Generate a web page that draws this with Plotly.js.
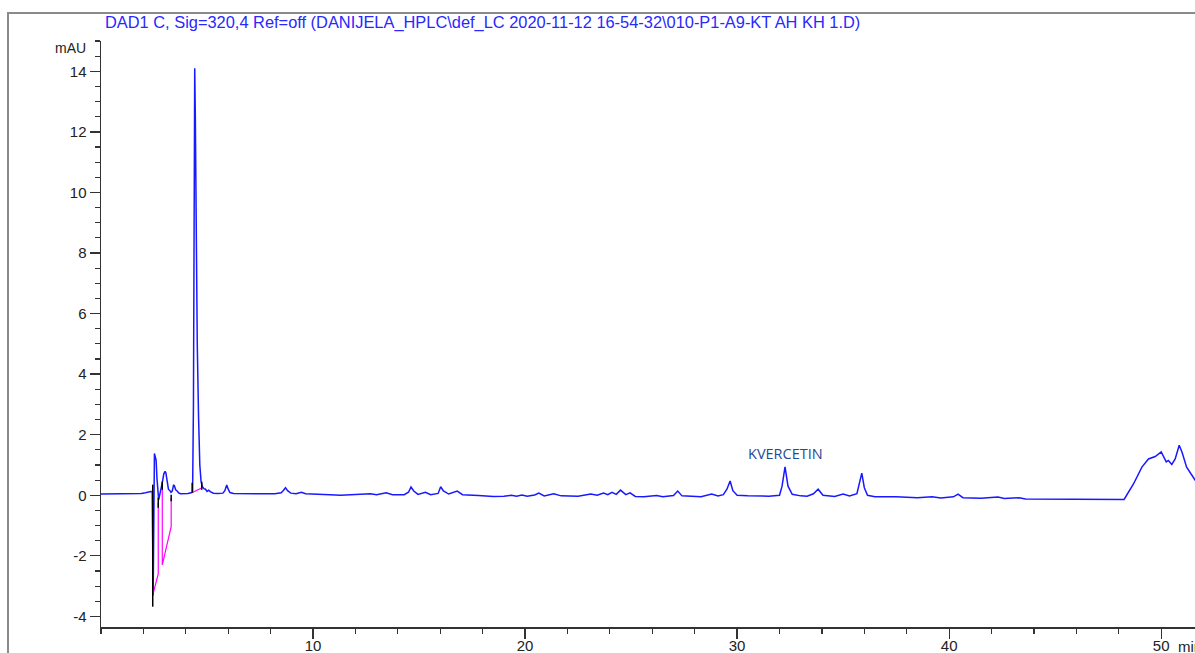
<!DOCTYPE html>
<html><head><meta charset="utf-8">
<script src="https://cdn.plot.ly/plotly-3.0.1.min.js"></script>
<style>html,body{margin:0;padding:0;overflow:hidden;background:#fff;}#c{width:1260px;height:653px;}</style>
</head><body><div id="c"></div>
<script>
// Signal (DAD1 C, 320 nm): retention time [min] and absorbance [mAU]
const time = [0.00,0.50,1.00,1.50,1.90,2.10,2.25,2.35,2.42,2.46,2.52,2.56,2.60,2.64,2.68,2.72,2.76,2.82,2.90,2.96,3.02,3.06,3.12,3.18,3.24,3.30,3.36,3.42,3.46,3.52,3.58,3.66,3.75,3.90,4.10,4.25,4.32,4.36,4.39,4.42,4.45,4.49,4.54,4.60,4.66,4.72,4.78,4.85,4.93,5.00,5.08,5.15,5.30,5.50,5.75,5.84,5.93,6.00,6.08,6.25,6.8,7.5,8.2,8.50,8.60,8.70,8.80,8.95,9.20,9.45,9.65,10.0,10.5,10.8,11.3,11.8,12.3,12.7,13.0,13.45,13.75,14.3,14.50,14.62,14.75,14.95,15.30,15.55,15.90,16.02,16.15,16.40,16.80,17.05,17.8,18.5,19.0,19.35,19.6,19.85,20.1,20.45,20.65,20.9,21.35,21.7,22.5,23.1,23.4,23.7,23.9,24.1,24.3,24.5,24.75,24.95,25.2,25.6,26.2,26.5,27.0,27.2,27.4,28.3,28.8,29.1,29.35,29.52,29.67,29.80,30.0,30.5,31.5,32.0,32.12,32.26,32.40,32.60,33.0,33.3,33.6,33.82,34.05,34.6,35.0,35.3,35.65,35.78,35.88,36.0,36.15,36.5,37.5,38.5,39.2,39.6,40.2,40.42,40.65,41.5,42.3,42.6,43.3,43.6,45.0,46.5,47.8,48.25,48.70,49.09,49.40,49.72,50.00,50.24,50.34,50.50,50.66,50.85,50.98,51.20,51.60,52.0,52.5,53.0,54.0];
const mau = [0.04,0.04,0.05,0.05,0.06,0.08,0.11,0.12,0.10,-3.30,1.38,1.30,1.15,0.55,0.02,-0.15,-0.02,0.15,0.45,0.70,0.79,0.74,0.42,0.20,0.16,0.10,0.14,0.33,0.32,0.18,0.15,0.08,0.05,0.05,0.06,0.08,0.10,3.0,10.0,14.1,12.4,8.4,5.0,2.6,1.0,0.45,0.28,0.22,0.20,0.13,0.17,0.12,0.07,0.06,0.07,0.15,0.34,0.20,0.09,0.06,0.05,0.05,0.05,0.08,0.16,0.25,0.15,0.07,0.05,0.10,0.05,0.04,0.05,0.02,0.00,0.01,0.02,0.05,0.02,0.08,0.02,0.02,0.10,0.27,0.14,0.03,0.10,0.02,0.06,0.28,0.14,0.04,0.14,0.02,-0.01,-0.04,-0.03,0.00,-0.03,0.01,-0.03,0.01,0.07,-0.02,0.05,-0.02,-0.03,0.04,0.00,0.07,0.02,0.10,0.03,0.17,0.02,0.08,-0.04,-0.05,-0.01,-0.05,-0.01,0.14,-0.02,-0.05,0.04,-0.02,0.02,0.20,0.47,0.15,0.00,-0.02,-0.03,0.00,0.30,0.94,0.30,0.03,-0.02,-0.03,0.05,0.20,0.00,-0.04,0.04,-0.02,0.05,0.40,0.73,0.25,0.00,-0.05,-0.05,-0.08,-0.05,-0.09,-0.05,0.04,-0.08,-0.10,-0.06,-0.11,-0.08,-0.12,-0.13,-0.14,-0.15,-0.14,0.38,0.93,1.20,1.28,1.43,1.10,1.15,1.02,1.20,1.65,1.43,0.93,0.50,0.30,0.20,0.15,0.10];

// Integration baselines (magenta), segments separated by null
const baseT = [2.42,2.44,2.70,2.70,null,2.89,2.89,3.31,3.31,null,4.30,4.75];
const baseV = [0.18,-3.30,-2.60,-0.25,null,0.20,-2.30,-1.04,-0.10,null,0.09,0.24];

// Peak start/end tick marks (black)
const markT = [2.44,2.44,null,2.70,2.70,null,2.89,2.89,null,3.31,3.31,null,4.30,4.30,null,4.75,4.75];
const markV = [0.35,-3.68,null,-0.08,-0.41,null,0.45,0.18,null,0.02,-0.20,null,0.41,0.08,null,0.45,0.18];

const xTickVals = [10,20,30,40,50];
const yTickVals = [-4,-2,0,2,4,6,8,10,12,14];
const peakLabel = {text:'KVERCETIN', t:32.3, v:1.38};
const titleText = 'DAD1 C, Sig=320,4 Ref=off (DANIJELA_HPLC\\def_LC 2020-11-12 16-54-32\\010-P1-A9-KT AH KH 1.D)';

const traces = [
  {x:time, y:mau, type:'scatter', mode:'lines', line:{color:'rgb(25,25,255)', width:1.5}, hoverinfo:'skip'},
  {x:baseT, y:baseV, type:'scatter', mode:'lines', line:{color:'#ff00ff', width:1.2}, connectgaps:false, hoverinfo:'skip'},
  {x:markT, y:markV, type:'scatter', mode:'lines', line:{color:'#000', width:1.5}, connectgaps:false, hoverinfo:'skip'}
];

const axisFont = {family:'"Liberation Sans", Arial, sans-serif', size:15, color:'#222'};
const layout = {
  width:1260, height:653,
  margin:{l:101, r:14, t:41, b:26},
  paper_bgcolor:'#fff', plot_bgcolor:'#fff',
  showlegend:false,
  xaxis:{range:[0,54], tickvals:xTickVals, ticktext:xTickVals.map(String), ticks:'outside', ticklen:10, tickwidth:1.3, tickcolor:'#333',
         ticklabelstandoff:-6,
         showline:true, linecolor:'#333', linewidth:1.5, showgrid:false, zeroline:false, tickfont:axisFont,
         minor:{dtick:2, tick0:0, ticks:'outside', ticklen:5, tickwidth:1.2, tickcolor:'#333', showgrid:false}},
  yaxis:{range:[-4.35,15.0], tickvals:yTickVals, ticktext:yTickVals.map(String), ticks:'outside', ticklen:10, tickwidth:1.3, tickcolor:'#333',
         showline:true, linecolor:'#333', linewidth:1.5, showgrid:false, zeroline:false, tickfont:axisFont,
         minor:{dtick:0.5, tick0:0, ticks:'outside', ticklen:5, tickwidth:1.2, tickcolor:'#333', showgrid:false}},
  title:{text:titleText, x:4/1145, xanchor:'left', xref:'paper', y:1-22/653, yanchor:'middle', yref:'container',
         font:{family:'"Liberation Sans", Arial, sans-serif', size:16.4, color:'rgb(40,40,255)'}},
  annotations:[
    {text:'mAU', xref:'paper', yref:'paper', x:-13/1145, y:(627-48)/586, xanchor:'right', yanchor:'middle', showarrow:false,
     font:{family:'"Liberation Sans", Arial, sans-serif', size:14, color:'#222'}},
    {text:'min', xref:'x', yref:'paper', x:50.72, y:-19/586, xanchor:'left', yanchor:'middle', showarrow:false,
     font:{family:'"Liberation Sans", Arial, sans-serif', size:15, color:'#222'}},
    {text:peakLabel.text, xref:'x', yref:'y', x:peakLabel.t, y:peakLabel.v, xanchor:'center', yanchor:'middle', showarrow:false,
     font:{family:'"Open Sans", sans-serif', size:14.5, color:'#1f4a96'}}
  ],
  shapes:[
    {type:'rect', xref:'paper', yref:'paper', x0:-93/1145, x1:1.3, y0:-0.3, y1:(627-13)/586, line:{color:'#8a8a8a', width:2}, layer:'below'}
  ]
};
Plotly.newPlot('c', traces, layout, {staticPlot:true, displayModeBar:false});
</script></body></html>
